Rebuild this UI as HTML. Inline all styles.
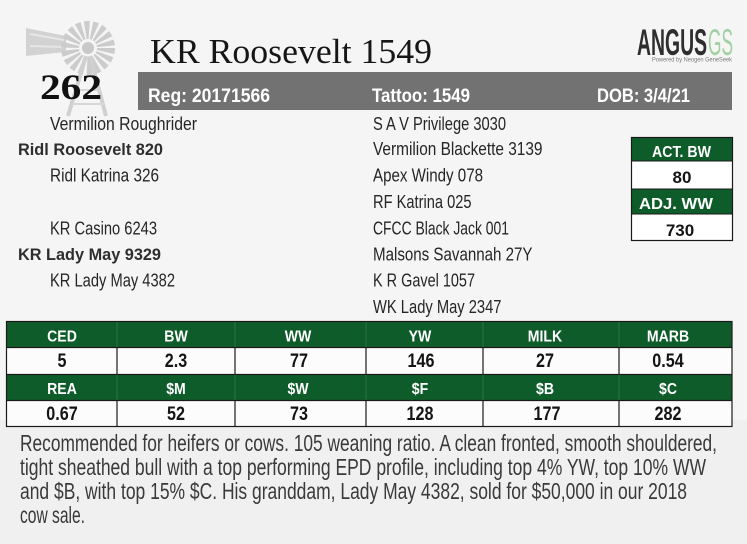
<!DOCTYPE html>
<html>
<head>
<meta charset="utf-8">
<style>
  html,body{margin:0;padding:0;background:#f5f5f5;}
  svg{display:block;}
  .ped{font-family:"Liberation Sans Narrow","Liberation Sans",sans-serif;font-size:18px;fill:#262626;}
  .pedb{font-family:"Liberation Sans Narrow","Liberation Sans",sans-serif;font-size:17px;font-weight:bold;fill:#2e2e2e;}
  .bar{font-family:"Liberation Sans",sans-serif;font-size:19px;font-weight:bold;fill:#ffffff;}
  .hd{font-family:"Liberation Sans",sans-serif;font-size:16px;font-weight:bold;fill:#ffffff;}
  .val{font-family:"Liberation Sans",sans-serif;font-size:19px;font-weight:bold;fill:#141414;}
  .bv{font-family:"Liberation Sans",sans-serif;font-size:17px;font-weight:bold;fill:#141414;}
  .para{font-family:"Liberation Sans Narrow","Liberation Sans",sans-serif;font-size:23px;fill:#3a3a3a;}
</style>
</head>
<body>
<svg width="747" height="544" viewBox="0 0 747 544" xmlns="http://www.w3.org/2000/svg">
  <rect x="0" y="0" width="747" height="544" fill="#f5f5f5"/>
  <rect x="0" y="420" width="747" height="124" fill="#f0f0f0"/>

  <!-- windmill -->
  <g opacity="0.85">
    <polygon points="26,28 66,36 66,52 26,56" fill="#cdcdcd"/>
    <line x1="30" y1="34" x2="64" y2="40" stroke="#e4e4e4" stroke-width="2"/>
    <line x1="30" y1="46" x2="64" y2="47" stroke="#e4e4e4" stroke-width="2"/>
    <circle cx="88" cy="48" r="18" fill="none" stroke="#c6c6c6" stroke-width="18" stroke-dasharray="4 2.3"/>
    <circle cx="88" cy="48" r="6" fill="#c2c2c2"/>
    <line x1="86" y1="56" x2="68" y2="116" stroke="#cacaca" stroke-width="4"/>
    <line x1="90" y1="56" x2="106" y2="116" stroke="#cacaca" stroke-width="4"/>
    <line x1="75" y1="90" x2="100" y2="90" stroke="#d2d2d2" stroke-width="2"/>
    <line x1="72" y1="104" x2="104" y2="104" stroke="#d2d2d2" stroke-width="2"/>
  </g>

  <!-- title -->
  <text x="150" y="63" font-family="'Liberation Serif',serif" font-size="35" fill="#161616" textLength="282" lengthAdjust="spacingAndGlyphs">KR Roosevelt 1549</text>
  <text x="40" y="99" font-family="'Liberation Serif',serif" font-size="36" font-weight="bold" fill="#111" textLength="62" lengthAdjust="spacingAndGlyphs">262</text>

  <!-- Angus GS logo -->
  <text x="637" y="55" font-family="'Liberation Sans',sans-serif" font-size="37" font-weight="bold" fill="#2e2e2e" textLength="70" lengthAdjust="spacingAndGlyphs">ANGUS</text>
  <text x="708" y="55" font-family="'Liberation Sans',sans-serif" font-size="37" fill="#a3d0a3" textLength="25" lengthAdjust="spacingAndGlyphs">GS</text>
  <text x="652" y="61.5" font-family="'Liberation Sans',sans-serif" font-size="6" fill="#7a7a7a" textLength="80" lengthAdjust="spacingAndGlyphs">Powered by Neogen GeneSeek</text>

  <!-- gray bar -->
  <rect x="138" y="72" width="594" height="38" fill="#727272"/>
  <text class="bar" x="148" y="102" textLength="122" lengthAdjust="spacingAndGlyphs">Reg: 20171566</text>
  <text class="bar" x="372" y="102" textLength="98" lengthAdjust="spacingAndGlyphs">Tattoo: 1549</text>
  <text class="bar" x="597" y="102" textLength="93" lengthAdjust="spacingAndGlyphs">DOB: 3/4/21</text>

  <!-- pedigree left -->
  <text class="ped" x="50" y="130" textLength="147" lengthAdjust="spacingAndGlyphs">Vermilion Roughrider</text>
  <text class="pedb" x="18" y="155" textLength="145" lengthAdjust="spacingAndGlyphs">Ridl Roosevelt 820</text>
  <text class="ped" x="50" y="181.5" textLength="109" lengthAdjust="spacingAndGlyphs">Ridl Katrina 326</text>
  <text class="ped" x="50" y="234.5" textLength="107" lengthAdjust="spacingAndGlyphs">KR Casino 6243</text>
  <text class="pedb" x="18" y="260" textLength="143" lengthAdjust="spacingAndGlyphs">KR Lady May 9329</text>
  <text class="ped" x="50" y="286.5" textLength="125" lengthAdjust="spacingAndGlyphs">KR Lady May 4382</text>

  <!-- pedigree right -->
  <text class="ped" x="373" y="130" textLength="133" lengthAdjust="spacingAndGlyphs">S A V Privilege 3030</text>
  <text class="ped" x="373" y="155" textLength="169.5" lengthAdjust="spacingAndGlyphs">Vermilion Blackette 3139</text>
  <text class="ped" x="373" y="181.5" textLength="110" lengthAdjust="spacingAndGlyphs">Apex Windy 078</text>
  <text class="ped" x="373" y="208" textLength="98.5" lengthAdjust="spacingAndGlyphs">RF Katrina 025</text>
  <text class="ped" x="373" y="234.5" textLength="136" lengthAdjust="spacingAndGlyphs">CFCC Black Jack 001</text>
  <text class="ped" x="373" y="260.5" textLength="159.5" lengthAdjust="spacingAndGlyphs">Malsons Savannah 27Y</text>
  <text class="ped" x="373" y="286.5" textLength="102" lengthAdjust="spacingAndGlyphs">K R Gavel 1057</text>
  <text class="ped" x="373" y="313" textLength="128.5" lengthAdjust="spacingAndGlyphs">WK Lady May 2347</text>

  <!-- ACT BW / ADJ WW box -->
  <rect x="631" y="137" width="102" height="24" fill="#0f5c2b"/>
  <rect x="631" y="161" width="102" height="28" fill="#ffffff"/>
  <rect x="631" y="189" width="102" height="25" fill="#0f5c2b"/>
  <rect x="631" y="214" width="102" height="27" fill="#ffffff"/>
  <rect x="631.5" y="137.5" width="101" height="103" fill="none" stroke="#1a1a1a" stroke-width="1.2"/>
  <line x1="631" y1="161" x2="733" y2="161" stroke="#1a1a1a" stroke-width="1"/>
  <line x1="631" y1="189" x2="733" y2="189" stroke="#1a1a1a" stroke-width="1"/>
  <line x1="631" y1="214" x2="733" y2="214" stroke="#1a1a1a" stroke-width="1"/>
  <text class="hd" x="652" y="157" textLength="59" lengthAdjust="spacingAndGlyphs">ACT. BW</text>
  <text class="bv" x="682" y="183" text-anchor="middle">80</text>
  <text class="hd" x="639" y="209" textLength="74" lengthAdjust="spacingAndGlyphs">ADJ. WW</text>
  <text class="bv" x="680" y="236" text-anchor="middle">730</text>

  <!-- EPD table -->
  <rect x="6" y="321.5" width="726" height="26" fill="#0f5c2b"/>
  <rect x="6" y="347.5" width="726" height="27" fill="#fcfcfc"/>
  <rect x="6" y="374.5" width="726" height="26" fill="#0f5c2b"/>
  <rect x="6" y="400.5" width="726" height="26" fill="#fcfcfc"/>
  <g stroke="#1a1a1a" stroke-width="1.2">
    <rect x="6.5" y="321.5" width="725.5" height="105" fill="none"/>
    <line x1="6" y1="347.5" x2="732" y2="347.5"/>
    <line x1="6" y1="374.5" x2="732" y2="374.5"/>
    <line x1="6" y1="400.5" x2="732" y2="400.5"/>
  </g>
  <g stroke="#1a1a1a" stroke-width="1.2">
    <line x1="117" y1="347.5" x2="117" y2="374.5"/>
    <line x1="235" y1="347.5" x2="235" y2="374.5"/>
    <line x1="366" y1="347.5" x2="366" y2="374.5"/>
    <line x1="483" y1="347.5" x2="483" y2="374.5"/>
    <line x1="619" y1="347.5" x2="619" y2="374.5"/>
    <line x1="117" y1="400.5" x2="117" y2="426.5"/>
    <line x1="235" y1="400.5" x2="235" y2="426.5"/>
    <line x1="366" y1="400.5" x2="366" y2="426.5"/>
    <line x1="483" y1="400.5" x2="483" y2="426.5"/>
    <line x1="619" y1="400.5" x2="619" y2="426.5"/>
  </g>
  <g stroke="#2f6f43" stroke-width="1">
    <line x1="117" y1="322" x2="117" y2="347"/>
    <line x1="235" y1="322" x2="235" y2="347"/>
    <line x1="366" y1="322" x2="366" y2="347"/>
    <line x1="483" y1="322" x2="483" y2="347"/>
    <line x1="619" y1="322" x2="619" y2="347"/>
    <line x1="117" y1="375" x2="117" y2="400"/>
    <line x1="235" y1="375" x2="235" y2="400"/>
    <line x1="366" y1="375" x2="366" y2="400"/>
    <line x1="483" y1="375" x2="483" y2="400"/>
    <line x1="619" y1="375" x2="619" y2="400"/>
  </g>

  <!-- header row 1 -->
  <g class="hd" text-anchor="middle">
    <text class="hd" transform="translate(62,341.5) scale(0.88,1)" text-anchor="middle">CED</text>
    <text class="hd" transform="translate(176,341.5) scale(0.88,1)" text-anchor="middle">BW</text>
    <text class="hd" transform="translate(298,341.5) scale(0.88,1)" text-anchor="middle">WW</text>
    <text class="hd" transform="translate(420,341.5) scale(0.88,1)" text-anchor="middle">YW</text>
    <text class="hd" transform="translate(545,341.5) scale(0.88,1)" text-anchor="middle">MILK</text>
    <text class="hd" transform="translate(668,341.5) scale(0.88,1)" text-anchor="middle">MARB</text>

    <text class="hd" transform="translate(62,394) scale(0.88,1)" text-anchor="middle">REA</text>
    <text class="hd" transform="translate(176,394) scale(0.88,1)" text-anchor="middle">$M</text>
    <text class="hd" transform="translate(298,394) scale(0.88,1)" text-anchor="middle">$W</text>
    <text class="hd" transform="translate(420,394) scale(0.88,1)" text-anchor="middle">$F</text>
    <text class="hd" transform="translate(545,394) scale(0.88,1)" text-anchor="middle">$B</text>
    <text class="hd" transform="translate(668,394) scale(0.88,1)" text-anchor="middle">$C</text>
  </g>

  <!-- value rows -->
  <text class="val" transform="translate(62,367) scale(0.85,1)" text-anchor="middle">5</text>
  <text class="val" transform="translate(176,367) scale(0.85,1)" text-anchor="middle">2.3</text>
  <text class="val" transform="translate(299,367) scale(0.85,1)" text-anchor="middle">77</text>
  <text class="val" transform="translate(421,367) scale(0.85,1)" text-anchor="middle">146</text>
  <text class="val" transform="translate(545,367) scale(0.85,1)" text-anchor="middle">27</text>
  <text class="val" transform="translate(668,367) scale(0.85,1)" text-anchor="middle">0.54</text>

  <text class="val" transform="translate(62,420) scale(0.85,1)" text-anchor="middle">0.67</text>
  <text class="val" transform="translate(176,420) scale(0.85,1)" text-anchor="middle">52</text>
  <text class="val" transform="translate(299,420) scale(0.85,1)" text-anchor="middle">73</text>
  <text class="val" transform="translate(420,420) scale(0.85,1)" text-anchor="middle">128</text>
  <text class="val" transform="translate(547,420) scale(0.85,1)" text-anchor="middle">177</text>
  <text class="val" transform="translate(668,420) scale(0.85,1)" text-anchor="middle">282</text>

  <!-- paragraph -->
  <text class="para" x="20" y="451" textLength="697" lengthAdjust="spacingAndGlyphs">Recommended for heifers or cows. 105 weaning ratio. A clean fronted, smooth shouldered,</text>
  <text class="para" x="20" y="475" textLength="686" lengthAdjust="spacingAndGlyphs">tight sheathed bull with a top performing EPD profile, including top 4% YW, top 10% WW</text>
  <text class="para" x="20" y="499" textLength="667" lengthAdjust="spacingAndGlyphs">and $B, with top 15% $C. His granddam, Lady May 4382, sold for $50,000 in our 2018</text>
  <text class="para" x="20" y="523" textLength="65" lengthAdjust="spacingAndGlyphs">cow sale.</text>
</svg>
</body>
</html>
